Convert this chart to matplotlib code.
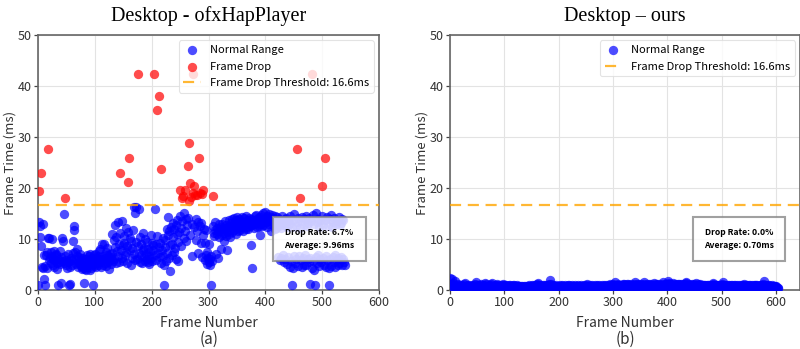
import matplotlib
matplotlib.use('Agg')
import matplotlib.pyplot as plt
import numpy as np

plt.rcParams['font.family'] = ['Noto Sans CJK KR', 'DejaVu Sans']

threshold = 16.6

# per-frame render times (ms), ofxHapPlayer build
hap_times = [
    1.0, 13.4, 19.4, 10.4, 12.5, 23.0, 8.6, 4.6, 4.4, 13.0, 6.9, 2.2, 4.8, 0.9, 6.8, 4.3, 7.5, 10.2, 27.6, 5.9,
    10.1, 6.3, 7.4, 5.2, 6.7, 10.0, 6.1, 5.0, 7.7, 4.6, 5.8, 6.9, 7.1, 5.3, 4.2, 1.0, 6.0, 5.5, 7.6, 5.1,
    1.3, 6.4, 5.7, 10.1, 9.7, 14.9, 5.2, 18.1, 6.6, 4.9, 5.9, 4.4, 7.0, 5.5, 1.0, 5.6, 1.1, 4.6, 6.2, 5.0,
    5.8, 7.3, 9.6, 12.6, 11.8, 7.4, 6.0, 5.1, 8.1, 6.7, 5.3, 4.5, 6.5, 5.2, 7.0, 4.8, 5.9, 4.1, 6.3, 5.0,
    4.4, 1.3, 5.5, 4.2, 6.1, 3.9, 5.0, 6.8, 4.6, 5.4, 6.6, 4.0, 7.1, 5.8, 4.3, 6.2, 5.1, 1.0, 6.9, 4.7,
    5.6, 7.0, 4.5, 6.3, 5.2, 6.6, 4.9, 7.7, 5.4, 8.1, 6.0, 4.6, 9.0, 5.8, 6.7, 5.0, 9.1, 6.2, 5.3, 7.4,
    4.8, 6.9, 8.3, 5.5, 4.2, 6.4, 5.9, 7.1, 5.1, 6.5, 10.9, 7.3, 5.6, 9.8, 6.1, 12.7, 8.4, 5.3, 10.3, 7.6,
    13.4, 6.7, 9.0, 5.4, 23.0, 11.1, 7.8, 6.2, 13.6, 8.8, 5.6, 10.5, 9.3, 6.9, 12.1, 7.4, 5.2, 8.6, 11.4, 21.1,
    25.9, 7.9, 10.1, 5.0, 9.6, 6.3, 8.2, 11.7, 16.3, 7.1, 5.8, 15.0, 16.2, 9.4, 6.0, 42.3, 8.7, 15.8, 7.3, 5.5,
    10.4, 6.8, 9.1, 5.3, 7.9, 11.2, 6.4, 8.3, 5.7, 10.0, 7.0, 6.1, 9.5, 5.4, 8.0, 6.6, 5.1, 7.6, 10.8, 6.2,
    9.3, 5.6, 7.8, 8.9, 42.3, 6.9, 15.8, 9.0, 5.9, 35.3, 10.5, 7.2, 38.1, 8.5, 6.4, 9.2, 23.8, 5.2, 7.9, 10.2,
    6.6, 4.9, 1.0, 8.4, 9.8, 5.7, 12.0, 7.3, 14.4, 10.7, 6.2, 11.6, 8.8, 3.8, 12.4, 9.1, 6.8, 13.2, 10.4, 7.5,
    11.9, 8.2, 12.8, 6.1, 10.9, 13.7, 9.4, 5.6, 11.3, 14.5, 19.6, 12.1, 8.7, 18.1, 13.5, 18.4, 10.2, 15.1, 11.6, 19.7,
    13.9, 9.6, 12.7, 24.4, 14.1, 28.8, 17.5, 21.0, 10.8, 18.3, 13.0, 6.7, 42.3, 19.0, 20.4, 12.3, 18.6, 9.9, 14.0, 18.6,
    11.5, 13.3, 7.2, 25.8, 12.6, 19.0, 9.3, 13.1, 18.8, 6.4, 10.7, 19.7, 12.0, 5.8, 9.2, 6.9, 11.8, 5.1, 7.4, 6.3,
    9.0, 5.4, 6.0, 4.9, 6.6, 1.0, 5.7, 12.5, 18.5, 11.1, 10.6, 13.4, 11.8, 7.0, 12.2, 10.9, 6.2, 11.5, 12.9, 10.3,
    11.7, 8.1, 12.4, 10.8, 13.0, 11.2, 12.1, 9.7, 11.9, 13.5, 10.6, 12.7, 11.4, 7.9, 12.3, 13.8, 11.0, 12.6, 10.4, 13.2,
    12.0, 13.9, 11.3, 12.8, 14.2, 11.8, 13.4, 12.5, 10.9, 13.7, 14.4, 12.2, 11.5, 13.1, 14.0, 12.9, 11.7, 13.6, 12.3, 14.3,
    13.0, 11.6, 12.7, 14.1, 13.3, 12.0, 14.6, 13.5, 12.4, 11.9, 13.8, 14.2, 12.6, 13.1, 8.9, 14.0, 12.8, 4.4, 13.4, 12.1,
    13.7, 14.5, 12.9, 13.2, 14.8, 12.3, 13.9, 14.1, 12.6, 13.5, 10.7, 14.3, 13.0, 14.7, 12.5, 13.6, 15.1, 14.0, 12.8, 13.8,
    15.2, 13.3, 14.6, 12.4, 14.2, 13.7, 14.9, 12.9, 13.5, 14.4, 11.5, 13.9, 14.8, 12.7, 14.1, 13.2, 12.0, 14.5, 13.6, 12.2,
    14.3, 13.0, 6.5, 12.6, 14.0, 5.8, 13.4, 6.2, 12.1, 14.6, 6.9, 13.1, 5.4, 12.8, 13.9, 6.0, 14.2, 12.4, 5.1, 13.6,
    6.4, 12.9, 13.7, 4.6, 14.5, 5.6, 12.3, 1.0, 4.4, 13.8, 6.7, 14.9, 5.2, 12.6, 6.1, 27.6, 13.3, 4.8, 14.1, 6.6,
    12.2, 18.0, 5.9, 13.5, 4.5, 14.4, 6.3, 12.7, 5.0, 13.9, 6.8, 14.6, 4.9, 12.5, 6.0, 13.1, 5.5, 14.2, 1.2, 6.2,
    13.6, 42.3, 4.4, 14.8, 5.7, 12.9, 4.0, 1.0, 15.0, 6.5, 13.3, 5.2, 14.0, 6.9, 4.7, 12.4, 6.1, 13.8, 5.4, 14.5,
    20.4, 6.3, 12.8, 5.0, 25.8, 13.7, 4.5, 6.6, 14.3, 5.8, 12.6, 4.3, 1.0, 13.9, 6.0, 14.7, 4.8, 12.3, 6.4, 13.4,
    5.5, 14.1, 6.8, 4.6, 12.9, 5.9, 13.6, 6.2, 4.9, 14.4, 5.3, 12.7, 6.5, 13.2, 5.0, 14.0, 6.1, 13.8, 5.4, 4.9,
]

# per-frame render times (ms), our player
ours_times = [
    2.4, 1.1, 0.7, 2.2, 0.9, 0.6, 1.3, 0.6, 1.0, 1.8, 0.5, 0.8, 0.5, 0.9, 0.6, 1.1, 0.5, 0.7, 0.8, 0.5,
    0.6, 0.9, 0.5, 1.0, 0.7, 0.5, 1.1, 0.5, 1.4, 0.6, 0.8, 0.5, 1.0, 0.5, 0.7, 0.9, 0.5, 0.6, 0.8, 0.5,
    0.7, 1.0, 0.5, 0.4, 0.9, 0.6, 1.1, 0.5, 1.5, 0.8, 0.5, 1.0, 0.7, 0.4, 0.9, 0.6, 0.5, 1.1, 0.5, 0.8,
    0.6, 0.9, 0.5, 1.0, 1.4, 0.7, 0.5, 1.1, 0.4, 0.8, 0.6, 1.0, 0.5, 0.9, 0.7, 0.5, 1.1, 1.3, 0.6, 0.5,
    0.8, 0.5, 1.0, 0.7, 0.4, 0.9, 0.6, 1.1, 0.5, 0.8, 0.5, 1.0, 0.7, 0.4, 0.9, 0.6, 0.5, 1.0, 1.1, 0.5,
    0.7, 0.5, 0.9, 0.6, 1.0, 0.4, 0.8, 0.5, 0.9, 0.7, 0.5, 1.0, 0.6, 0.4, 0.8, 0.5, 0.9, 0.7, 1.0, 0.5,
    0.6, 0.8, 0.4, 0.9, 0.5, 0.7, 0.5, 0.8, 0.6, 0.4, 0.7, 0.5, 0.8, 0.5, 0.6, 0.4, 0.7, 0.5, 0.8, 0.5,
    0.6, 0.4, 0.8, 0.5, 0.7, 0.5, 0.9, 0.6, 0.4, 0.8, 0.5, 0.9, 0.5, 0.7, 0.6, 1.0, 0.4, 0.8, 0.5, 0.9,
    0.7, 1.1, 1.4, 0.6, 0.9, 0.5, 1.0, 0.7, 0.5, 0.8, 0.6, 1.0, 0.4, 0.9, 0.7, 0.5, 1.0, 0.6, 0.8, 0.5,
    0.9, 0.6, 1.1, 0.7, 1.9, 1.2, 0.5, 0.8, 0.5, 0.9, 0.6, 0.4, 0.8, 0.5, 0.7, 0.5, 0.9, 0.6, 0.4, 0.7,
    0.5, 0.8, 0.5, 1.0, 0.6, 0.4, 0.9, 0.7, 0.5, 0.8, 0.5, 0.9, 0.6, 0.4, 0.7, 0.8, 0.5, 0.9, 0.5, 1.0,
    0.6, 0.4, 0.8, 0.5, 0.9, 0.7, 0.5, 0.8, 0.6, 0.4, 0.9, 0.5, 0.7, 0.5, 0.8, 0.6, 0.9, 0.4, 0.7, 0.5,
    0.8, 0.5, 0.9, 0.6, 0.4, 0.8, 0.5, 1.0, 0.7, 0.5, 0.9, 0.6, 1.2, 0.5, 0.8, 0.4, 0.7, 0.9, 0.5, 0.6,
    0.8, 0.5, 0.9, 0.7, 0.4, 0.8, 0.6, 1.0, 0.5, 0.7, 0.9, 0.5, 0.8, 0.4, 0.6, 1.0, 0.5, 0.8, 0.7, 0.5,
    0.9, 0.6, 0.5, 1.0, 0.7, 0.4, 0.8, 0.5, 1.0, 0.6, 0.9, 0.5, 0.8, 0.7, 1.1, 0.5, 0.9, 0.6, 1.0, 0.7,
    1.1, 0.8, 1.0, 0.6, 1.5, 0.9, 0.7, 1.0, 0.5, 0.8, 1.1, 0.6, 0.9, 0.5, 1.0, 0.7, 0.8, 0.5, 1.1, 0.6,
    0.9, 1.2, 0.7, 1.0, 0.5, 1.1, 0.8, 0.6, 1.2, 0.9, 0.5, 1.0, 0.7, 1.1, 0.8, 0.5, 1.0, 0.9, 0.6, 1.2,
    0.8, 1.5, 1.0, 0.7, 1.1, 0.5, 0.9, 1.2, 0.6, 1.0, 0.8, 1.1, 0.7, 0.9, 0.5, 1.0, 0.8, 1.2, 1.5, 0.6,
    1.0, 0.8, 1.1, 0.5, 0.9, 0.7, 1.2, 1.0, 0.6, 0.8, 1.1, 0.7, 0.9, 0.5, 1.0, 1.4, 0.8, 1.1, 0.6, 0.9,
    0.7, 1.2, 1.0, 0.5, 0.8, 1.1, 0.6, 0.9, 1.0, 0.7, 1.2, 0.8, 0.5, 1.5, 1.0, 0.7, 1.1, 0.9, 0.6, 1.2,
    1.0, 0.8, 1.8, 1.4, 1.1, 0.7, 0.9, 1.2, 0.6, 1.0, 0.8, 1.3, 1.1, 0.7, 0.9, 0.5, 1.2, 1.0, 0.8, 1.1,
    0.6, 0.9, 1.2, 0.7, 1.0, 0.8, 1.1, 0.5, 0.9, 1.2, 0.7, 1.0, 1.1, 0.8, 1.6, 1.3, 0.6, 1.0, 0.9, 0.7,
    1.1, 0.8, 1.0, 0.5, 0.9, 1.2, 0.7, 1.0, 0.8, 1.1, 0.6, 0.9, 1.3, 1.0, 0.7, 0.8, 1.1, 0.5, 0.9, 1.0,
    0.7, 1.1, 0.8, 0.6, 1.0, 0.9, 0.5, 0.8, 1.0, 0.7, 0.9, 0.4, 0.8, 1.0, 0.6, 0.9, 0.7, 1.0, 0.5, 0.8,
    0.9, 0.6, 1.0, 0.8, 1.1, 1.3, 0.7, 0.9, 0.5, 1.0, 0.8, 0.6, 0.9, 0.7, 1.0, 0.4, 0.8, 0.9, 0.6, 1.0,
    0.7, 1.1, 1.5, 0.8, 1.0, 0.6, 0.9, 0.7, 1.0, 0.5, 0.8, 0.9, 0.6, 1.0, 0.4, 0.8, 0.7, 0.9, 0.5, 0.8,
    1.0, 0.6, 0.8, 0.9, 0.5, 1.0, 0.7, 0.8, 0.6, 0.9, 0.4, 0.8, 1.0, 0.7, 0.5, 0.9, 0.6, 0.8, 1.0, 0.7,
    0.9, 1.2, 0.6, 0.8, 1.0, 0.5, 0.9, 0.7, 0.8, 0.6, 1.0, 0.4, 0.8, 0.9, 0.7, 0.5, 1.0, 0.6, 0.8, 0.9,
    0.7, 1.0, 0.5, 0.8, 0.9, 0.6, 1.0, 0.7, 0.8, 0.4, 0.9, 0.6, 1.0, 0.8, 0.7, 0.9, 0.5, 1.1, 1.7, 0.8,
    1.0, 0.6, 0.9, 0.7, 0.8, 0.5, 1.0, 0.6, 0.9, 0.7, 0.4, 0.8, 0.9, 0.6, 0.7, 0.8, 0.5, 0.7, 0.8, 0.6,
    0.5, 0.7, 0.4, 0.4, 0.3,
]

titles = ['Desktop - ofxHapPlayer', 'Desktop \u2013 ours']
panel_tags = ['(a)', '(b)']
drop_rates = ['6.7%', '0.0%']
averages = ['9.96ms', '0.70ms']
x_limits = [600, 645]

fig = plt.figure(figsize=(8, 3.49), dpi=100)
ax_left = fig.add_axes([0.0475, 0.169, 0.4265, 0.731])
ax_right = fig.add_axes([0.5625, 0.169, 0.438, 0.731])

for i, (ax, times) in enumerate(zip([ax_left, ax_right], [hap_times, ours_times])):
    t = np.array(times)
    frames = np.arange(len(t))
    ok = t <= threshold
    ax.scatter(frames[ok], t[ok], s=45, color='blue', alpha=0.7, linewidths=0,
               label='Normal Range', zorder=3)
    if (~ok).any():
        ax.scatter(frames[~ok], t[~ok], s=45, color='red', alpha=0.7, linewidths=0,
                   label='Frame Drop', zorder=3)
    ax.axhline(threshold, color='orange', linestyle='--', linewidth=1.6, alpha=0.8,
               dashes=(5, 3), label='Frame Drop Threshold: %.1fms' % threshold, zorder=4)

    ax.set_xlim(0, x_limits[i])
    ax.set_ylim(0, 50)
    ax.set_xticks([0, 100, 200, 300, 400, 500, 600])
    ax.set_yticks([0, 10, 20, 30, 40, 50])
    ax.grid(True, color='#e3e3e3', linewidth=0.8, zorder=0)
    ax.set_axisbelow(True)
    for sp in ax.spines.values():
        sp.set_color('#666666')
        sp.set_linewidth(1.2)
    ax.tick_params(labelsize=9, length=3, width=0.9, color='#444444', pad=1.5,
                   labelcolor='#333333')

    ax.set_xlabel('Frame Number', fontsize=10, color='#333333', labelpad=5)
    ax.set_ylabel('Frame Time (ms)', fontsize=9.5, color='#333333', labelpad=1)
    ax.set_title(titles[i], fontsize=14.5, family='Liberation Serif', pad=10)

    leg = ax.legend(loc='upper right', fontsize=8, framealpha=0.8, edgecolor='#dddddd',
                    borderaxespad=0.5, handlelength=1.6, labelspacing=0.6)
    leg.get_frame().set_linewidth(0.8)
    leg.set_zorder(6)

    ax.text(0.825, 0.2, 'Drop Rate: %s\nAverage: %s' % (drop_rates[i], averages[i]),
            transform=ax.transAxes, ha='center', va='center', fontsize=6.2,
            fontweight='bold', linespacing=1.5, zorder=7,
            bbox=dict(boxstyle='square,pad=1.3', facecolor='white', alpha=0.8,
                      edgecolor='#888888', linewidth=1.5))

    pos = ax.get_position()
    fig.text((pos.x0 + pos.x1) / 2, 0.028, panel_tags[i], ha='center', va='center',
             fontsize=11, color='#333333')

fig.savefig('out.png', dpi=100)
